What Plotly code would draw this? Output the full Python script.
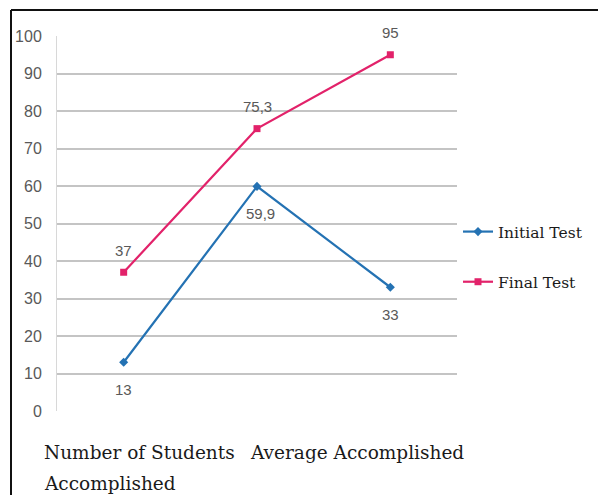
import plotly.graph_objects as go

categories = ["Number of Students Accomplished", "Average Accomplished", ""]
initial_test = [13, 59.9, 33]
final_test = [37, 75.3, 95]
y_ticks = [0, 10, 20, 30, 40, 50, 60, 70, 80, 90, 100]

def fmt(v):
    return str(v).replace(".", ",")

x_idx = list(range(len(categories)))
BLUE = "#2472b3"
PINK = "#e2226a"
LABEL_FONT = dict(family="Liberation Sans, sans-serif", size=15, color="#595959")

fig = go.Figure()
fig.add_trace(go.Scatter(
    x=x_idx, y=initial_test, name="Initial Test", mode="lines+markers",
    line=dict(color=BLUE, width=2.2),
    marker=dict(symbol="diamond", size=7, color=BLUE),
    legendgroup="a",
))
fig.add_trace(go.Scatter(
    x=x_idx, y=final_test, name="Final Test", mode="lines+markers",
    line=dict(color=PINK, width=2.2),
    marker=dict(symbol="square", size=7, color=PINK),
    legendgroup="b",
))

# data labels
for xi, v in zip(x_idx, initial_test):
    fig.add_annotation(x=xi, y=v, text=fmt(v), showarrow=False, yshift=-27,
                       xshift=3 if xi == 1 else 0,
                       font=LABEL_FONT, xanchor="center", yanchor="middle")
for xi, v in zip(x_idx, final_test):
    fig.add_annotation(x=xi, y=v, text=fmt(v), showarrow=False, yshift=22,
                       font=LABEL_FONT, xanchor="center", yanchor="middle")

L, R, T, B = 57, 141, 36, 84
W, H = 598, 495
pw, ph = W - L - R, H - T - B
def px(x):
    return (x - L) / pw
def py(y):
    return (H - B - y) / ph

fig.update_layout(
    width=W, height=H,
    margin=dict(l=L, r=R, t=T, b=B, pad=0, autoexpand=False),
    paper_bgcolor="white", plot_bgcolor="white",
    showlegend=True,
    legend=dict(x=px(458), y=py(215), xanchor="left", yanchor="top",
                font=dict(family="DejaVu Serif, serif", size=15.5, color="#1a1a1a"),
                tracegroupgap=27, itemwidth=30, bgcolor="rgba(0,0,0,0)"),
    xaxis=dict(range=[-0.5, 2.5], tickvals=x_idx, ticktext=["", "", ""],
               showgrid=False, zeroline=False, showline=False, ticks=""),
    yaxis=dict(range=[0, 100], tickvals=y_ticks, showgrid=True, gridcolor="#c4c4c4",
               gridwidth=1.5, zeroline=False, showline=True, linecolor="#d8d8d8", linewidth=1,
               ticks="", ticklabelstandoff=11,
               tickfont=dict(family="Liberation Sans, sans-serif", size=16, color="#595959")),
    font=dict(family="DejaVu Serif, serif"),
)

# category captions (Excel wrapped labels)
CAP_FONT = dict(family="DejaVu Serif, serif", size=18.5, color="#1a1a1a")
first_words = categories[0].rsplit(" ", 1)
fig.add_annotation(xref="paper", yref="paper", x=px(42), y=py(452), xanchor="left", yanchor="middle",
                   text=first_words[0], showarrow=False, font=CAP_FONT)
fig.add_annotation(xref="paper", yref="paper", x=px(42), y=py(483), xanchor="left", yanchor="middle",
                   text=first_words[1], showarrow=False, font=CAP_FONT)
fig.add_annotation(xref="paper", yref="paper", x=px(248), y=py(452), xanchor="left", yanchor="middle",
                   text=categories[1], showarrow=False, font=CAP_FONT)

# outer frame
fig.add_shape(type="line", xref="paper", yref="paper", x0=px(11), x1=px(11), y0=py(10), y1=py(500),
              line=dict(color="#111111", width=2))
fig.add_shape(type="line", xref="paper", yref="paper", x0=px(11), x1=px(605), y0=py(10), y1=py(10),
              line=dict(color="#111111", width=2))

fig.write_html("out.html")
